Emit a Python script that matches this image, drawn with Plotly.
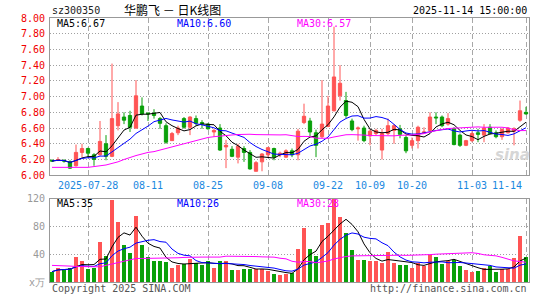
import plotly.graph_objects as go
import pandas as pd

# ---- data (80 trading days, 2025-07-18 .. 2025-11-14) ----
open_ = [6.19, 6.19, 6.19, 6.17, 6.12, 6.29, 6.34, 6.26, 6.26, 6.40,
         6.24, 6.63, 6.74, 6.76, 6.60, 6.88, 6.79, 6.79, 6.72, 6.63,
         6.44, 6.54, 6.72, 6.61, 6.72, 6.67, 6.65, 6.55, 6.60, 6.36,
         6.33, 6.23, 6.34, 6.29, 6.05, 6.17, 6.26, 6.34, 6.26, 6.23,
         6.31, 6.26, 6.67, 6.69, 6.54, 6.49, 6.62, 6.82, 7.01, 6.95,
         6.69, 6.59, 6.60, 6.50, 6.53, 6.32, 6.53, 6.57, 6.59, 6.48,
         6.38, 6.44, 6.54, 6.57, 6.74, 6.74, 6.65, 6.59, 6.51, 6.38,
         6.44, 6.54, 6.51, 6.61, 6.54, 6.49, 6.54, 6.56, 6.70, 6.80]
high = [6.20, 6.23, 6.20, 6.19, 6.39, 6.40, 6.35, 6.28, 6.69, 6.51,
        7.42, 6.93, 6.80, 6.82, 7.21, 6.99, 6.80, 6.84, 6.74, 6.66,
        6.55, 6.63, 6.74, 6.75, 6.76, 6.70, 6.66, 6.59, 6.65, 6.45,
        6.37, 6.40, 6.37, 6.32, 6.18, 6.28, 6.36, 6.35, 6.30, 6.33,
        6.34, 6.59, 6.91, 6.73, 6.58, 7.21, 7.01, 7.89, 7.40, 7.06,
        6.72, 6.62, 6.63, 6.59, 6.59, 6.59, 6.72, 6.65, 6.64, 6.51,
        6.48, 6.63, 6.61, 6.80, 6.80, 6.76, 6.79, 6.61, 6.53, 6.45,
        6.56, 6.59, 6.65, 6.65, 6.57, 6.60, 6.61, 6.61, 6.95, 6.87]
low = [6.17, 6.18, 6.16, 6.08, 6.11, 6.23, 6.23, 6.12, 6.25, 6.19,
       6.23, 6.57, 6.65, 6.55, 6.59, 6.76, 6.69, 6.72, 6.59, 6.40,
       6.44, 6.51, 6.59, 6.51, 6.63, 6.59, 6.58, 6.49, 6.31, 6.09,
       6.23, 6.15, 6.17, 6.07, 6.05, 6.05, 6.23, 6.19, 6.23, 6.22,
       6.23, 6.19, 6.65, 6.49, 6.23, 6.47, 6.61, 6.81, 6.95, 6.73,
       6.56, 6.44, 6.42, 6.38, 6.51, 6.20, 6.51, 6.40, 6.47, 6.28,
       6.34, 6.34, 6.53, 6.55, 6.65, 6.61, 6.63, 6.38, 6.36, 6.37,
       6.42, 6.42, 6.42, 6.52, 6.47, 6.45, 6.53, 6.38, 6.68, 6.77]
close = [6.18, 6.20, 6.18, 6.09, 6.29, 6.34, 6.28, 6.20, 6.43, 6.24,
         6.72, 6.78, 6.70, 6.61, 7.01, 6.78, 6.78, 6.76, 6.66, 6.42,
         6.53, 6.60, 6.61, 6.74, 6.66, 6.65, 6.59, 6.57, 6.32, 6.38,
         6.24, 6.37, 6.29, 6.08, 6.16, 6.27, 6.35, 6.23, 6.28, 6.31,
         6.26, 6.56, 6.75, 6.55, 6.38, 6.65, 6.88, 7.25, 7.17, 6.76,
         6.58, 6.60, 6.44, 6.56, 6.57, 6.53, 6.63, 6.63, 6.52, 6.31,
         6.44, 6.61, 6.55, 6.74, 6.73, 6.63, 6.72, 6.39, 6.38, 6.44,
         6.53, 6.52, 6.60, 6.53, 6.49, 6.58, 6.60, 6.59, 6.82, 6.78]
volume = [15, 20, 19, 20, 36, 31, 18.5, 20.5, 58, 38,
          119, 87, 53, 42, 95, 54, 36, 30, 30, 29,
          20, 25, 26, 33, 27, 24, 30, 20.5, 31, 31,
          18, 18, 19.5, 19.5, 18.5, 18.5, 15.7, 11.5, 10.5, 12,
          13, 47.6, 77.6, 47.6, 37, 83, 85, 120, 94, 71,
          46, 32, 32, 30, 30, 27, 43, 27, 25, 25,
          20.5, 27, 22.4, 38.6, 36.7, 26, 30.5, 32, 23, 17.6,
          14.5, 16, 20, 23.5, 14.5, 18.5, 18.5, 34, 66, 36]
# MA30 values before a full 30-day window is available
ma30_head = [6.10, 6.10, 6.10, 6.10, 6.10, 6.10, 6.10, 6.11, 6.12, 6.13,
             6.15, 6.17, 6.20, 6.23, 6.25, 6.27, 6.29, 6.30, 6.32, 6.34,
             6.36, 6.38, 6.40, 6.42, 6.44, 6.46, 6.48, 6.49, 6.50]
vma30_head = [24, 24, 23.5, 23, 22.5, 22, 22, 22, 22, 24,
              27, 29, 30, 32, 34, 34, 34, 34, 34, 34,
              34.5, 35, 35.5, 36, 36, 36, 36, 36, 36]

tick_idx = [6, 16, 26, 36, 46, 53, 60, 70, 79]
tick_text = ["2025-07-28", "08-11", "08-25", "09-08", "09-22", "10-09", "10-20", "11-03", "11-14"]
price_ticks = [6.0, 6.2, 6.4, 6.6, 6.8, 7.0, 7.2, 7.4, 7.6, 7.8, 8.0]
vol_ticks = [0, 40, 80, 120]
vol_tick_text = ["x万", "40", "80", "120"]

RED = "#FF5454"
GREEN = "#0AA00A"
MONO = "DejaVu Sans Mono"

n = len(close)
x = list(range(n))
c = pd.Series(close)
v = pd.Series(volume)
ma5 = c.rolling(5, min_periods=1).mean()
ma10 = c.rolling(10, min_periods=1).mean()
ma30 = c.rolling(30).mean()
ma30 = list(ma30_head) + list(ma30[29:])
vma5 = v.rolling(5, min_periods=1).mean()
vma10 = v.rolling(10, min_periods=1).mean()
vma30 = v.rolling(30).mean()
vma30 = list(vma30_head) + list(vma30[29:])
bar_colors = [RED if close[i] >= open_[i] else GREEN for i in range(n)]

fig = go.Figure()
fig.add_trace(go.Candlestick(
    x=x, open=open_, high=high, low=low, close=close,
    increasing=dict(line=dict(color=RED, width=1), fillcolor=RED),
    decreasing=dict(line=dict(color=GREEN, width=1), fillcolor=GREEN),
    whiskerwidth=0, hoverinfo="skip", xaxis="x", yaxis="y"))
for s, col in [(ma5, "#000000"), (ma10, "#0000FF"), (ma30, "#FF00FF")]:
    fig.add_trace(go.Scatter(x=x, y=list(s), mode="lines", line=dict(color=col, width=1),
                             hoverinfo="skip", xaxis="x", yaxis="y"))
fig.add_trace(go.Bar(x=x, y=volume, marker=dict(color=bar_colors, line=dict(width=0)),
                     width=0.78, hoverinfo="skip", xaxis="x2", yaxis="y2"))
for s, col in [(vma5, "#000000"), (vma10, "#0000FF"), (vma30, "#FF00FF")]:
    fig.add_trace(go.Scatter(x=x, y=list(s), mode="lines", line=dict(color=col, width=1),
                             hoverinfo="skip", xaxis="x2", yaxis="y2"))

PLOT_TOP, PLOT_BOT = 18, 285
H = PLOT_BOT - PLOT_TOP
def py(ypx):
    return (PLOT_BOT - ypx) / H
def px(xpx):
    return (xpx - 50) / 479

xcommon = dict(range=[-0.333, 79.5], tickvals=tick_idx, showticklabels=False,
               showgrid=True, gridcolor="#A8A8A8", griddash="5px,3px", gridwidth=1,
               showline=True, mirror=True, linecolor="#999999", linewidth=1,
               zeroline=False, ticks="", fixedrange=True)
fig.update_layout(
    width=545, height=300,
    margin=dict(l=50, r=16, t=PLOT_TOP, b=300 - PLOT_BOT),
    paper_bgcolor="white", plot_bgcolor="white",
    showlegend=False, bargap=0, boxgap=0.22,
    xaxis=dict(domain=[0, 1], anchor="y", rangeslider=dict(visible=False), **xcommon),
    xaxis2=dict(domain=[0, 1], anchor="y2", **xcommon),
    yaxis=dict(domain=[py(177), 1], range=[6.0, 8.0], tickvals=price_ticks, tickformat=".2f",
               tickfont=dict(family=MONO, size=10, color="#F00000"),
               showgrid=True, gridcolor="#A0A0A0", griddash="1px,2px", gridwidth=1,
               showline=True, mirror=True, linecolor="#999999", linewidth=1,
               zeroline=False, ticks="outside", ticklen=2, tickcolor="rgba(0,0,0,0)", fixedrange=True),
    yaxis2=dict(domain=[0, py(201)], range=[0, 120], tickvals=vol_ticks, ticktext=vol_tick_text,
                tickfont=dict(family=MONO, size=10, color="#999999"),
                showgrid=True, gridcolor="#A0A0A0", griddash="1px,2px", gridwidth=1,
                showline=True, mirror=True, linecolor="#999999", linewidth=1,
                zeroline=False, ticks="outside", ticklen=2, tickcolor="rgba(0,0,0,0)", fixedrange=True),
)

ann = []
def add(text, xp, yp, color="#000000", xanchor="left", size=10, family=MONO):
    ann.append(dict(text=text, x=xp, y=yp, xref="paper", yref="paper", xanchor=xanchor,
                    yanchor="middle", showarrow=False, font=dict(family=family, size=size, color=color)))

# header
add("sz300350", px(50), py(10), color="#222222")
add("华鹏飞 － 日K线图", px(172), py(9), color="#000000", xanchor="center", size=12,
    family="Noto Sans CJK SC")
add("2025-11-14 15:00:00", 1, py(10), xanchor="right")
# MA labels
add("MA5:%.2f" % ma5.iloc[-1], px(55), py(24), color="#000000")
add("MA10:%.2f" % ma10.iloc[-1], px(175), py(24), color="#0000FF")
add("MA30:%.2f" % ma30[-1], px(295), py(24), color="#FF00FF")
add("MA5:%d" % round(vma5.iloc[-1]), px(55), py(206), color="#000000")
add("MA10:%d" % round(vma10.iloc[-1]), px(175), py(206), color="#0000FF")
add("MA30:%d" % round(vma30[-1]), px(295), py(206), color="#FF00FF")
# date labels
for i, t in zip(tick_idx, tick_text):
    last = i == tick_idx[-1]
    ann.append(dict(text=t, x=i, y=py(187), xref="x", yref="paper",
                    xanchor="right" if last else "center", xshift=-2 if last else 0,
                    yanchor="middle", showarrow=False,
                    font=dict(family=MONO, size=10, color="#1A88E0")))
# footer
add("Copyright 2025 SINA.COM", px(50), py(292), color="#555555")
add("http://finance.sina.com.cn", 1, py(292), color="#555555", xanchor="right")
# watermark
add("<b><i>sina</i></b>", px(512), py(157), color="#D6D6D6", xanchor="center", size=15,
    family="DejaVu Sans")
fig.update_layout(annotations=ann)

fig.write_html("out.html", config={"staticPlot": True})
